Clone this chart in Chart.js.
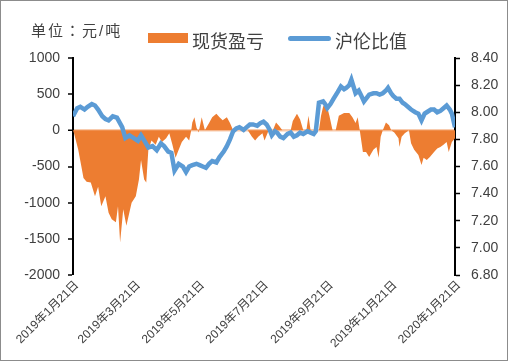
<!DOCTYPE html>
<html>
<head>
<meta charset="utf-8">
<script src="https://cdn.jsdelivr.net/npm/chart.js@4.4.1/dist/chart.umd.min.js"></script>
<style>
    html, body { margin: 0; padding: 0; background: #fff; }
    #wrap { position: relative; width: 508px; height: 361px; font-family: "Liberation Sans", "Noto Sans CJK SC", sans-serif; color: #404040; }
    #frame { position: absolute; left: 0; top: 0; width: 506px; height: 359px; border: 1px solid #8c8c8c; pointer-events: none; }
    .txt { position: absolute; white-space: nowrap; }
    #unit { left: 31px; top: 19px; font-size: 15px; letter-spacing: 2px; font-family: "Liberation Sans", "Noto Sans CJK TC", sans-serif; }
    .leg { top: 27px; font-size: 18px; }
    #legBar { position: absolute; left: 148px; top: 33px; width: 40px; height: 10px; background: #ED7D31; }
    #legLine { position: absolute; left: 288px; top: 36px; width: 43px; height: 5px; background: #5B9BD5; border-radius: 3px; }
</style>
</head>
<body>
<div id="wrap">
    <canvas id="chart" width="508" height="361"></canvas>
    <div id="unit" class="txt">单位：元/吨</div>
    <div id="legBar"></div>
    <div class="txt leg" style="left:192px">现货盈亏</div>
    <div id="legLine"></div>
    <div class="txt leg" style="left:335px">沪伦比值</div>
    <div id="frame"></div>
</div>
<script>
// x values are days since 2019-01-21
const pnlDays = [0, 1, 5, 8, 10, 13, 17, 21, 24, 27, 31, 34, 37, 41, 43, 45, 48, 51, 53, 56, 60, 63, 65, 68, 70, 72, 75, 79, 82, 85, 89, 92, 95, 98, 101, 104, 108, 111, 113, 114, 116, 118, 120, 123, 126, 130, 133, 137, 140, 143, 147, 150, 153, 167, 171, 174, 177, 181, 183, 187, 191, 194, 197, 200, 208, 210, 214, 217, 220, 223, 225, 227, 235, 237, 239, 242, 245, 248, 251, 254, 259, 264, 267, 270, 272, 274, 277, 280, 283, 287, 290, 292, 294, 296, 299, 302, 304, 307, 311, 312, 314, 317, 321, 323, 326, 330, 333, 335, 338, 341, 345, 348, 351, 354, 357, 359, 362, 365];
const pnlValues = [0, -40, -270, -500, -660, -710, -720, -910, -780, -1050, -910, -1140, -1230, -1270, -1050, -1550, -1090, -1320, -1190, -1000, -910, -680, -410, -680, -720, -270, -140, -200, -90, -160, -110, -40, -200, -380, -270, -160, -90, -140, 0, 110, 180, 40, -30, 180, 0, 100, 180, 230, 180, 140, 180, 100, 0, 0, -90, -140, -90, -40, -140, 0, 0, 110, 60, 0, 0, 130, 230, 150, 0, 0, 200, 0, 0, 200, 330, 370, 200, 0, 0, 200, 240, 240, 180, 100, 180, 0, -300, -300, -370, -270, -230, -380, -90, 0, 110, 70, 0, -30, -110, -230, -90, -40, 0, -180, -270, -340, -480, -380, -410, -370, -300, -250, -230, -200, -160, -300, -160, -110];

const ratioDays = [0, 4, 7, 11, 14, 18, 21, 24, 28, 31, 34, 38, 42, 47, 50, 54, 58, 62, 65, 69, 72, 76, 80, 84, 87, 91, 94, 97, 101, 105, 108, 111, 114, 118, 121, 124, 127, 130, 133, 137, 140, 144, 147, 150, 153, 156, 159, 163, 166, 169, 172, 176, 179, 182, 185, 188, 190, 193, 195, 198, 201, 205, 208, 211, 214, 217, 220, 224, 227, 230, 232, 235, 239, 241, 243, 246, 249, 253, 256, 259, 261, 264, 266, 268, 270, 273, 275, 278, 281, 283, 287, 290, 293, 296, 299, 301, 304, 306, 309, 312, 315, 317, 320, 323, 327, 330, 333, 336, 338, 342, 345, 348, 351, 354, 357, 360, 362, 365];
const ratioValues = [7.97, 8.03, 8.04, 8.02, 8.04, 8.06, 8.05, 8.02, 7.97, 7.95, 7.94, 7.97, 7.96, 7.89, 7.81, 7.83, 7.81, 7.79, 7.83, 7.78, 7.74, 7.75, 7.72, 7.77, 7.75, 7.71, 7.70, 7.57, 7.62, 7.60, 7.56, 7.60, 7.61, 7.62, 7.61, 7.60, 7.59, 7.62, 7.64, 7.63, 7.67, 7.71, 7.75, 7.80, 7.86, 7.88, 7.89, 7.87, 7.89, 7.91, 7.91, 7.90, 7.92, 7.93, 7.91, 7.87, 7.83, 7.86, 7.85, 7.82, 7.81, 7.84, 7.85, 7.82, 7.83, 7.85, 7.84, 7.86, 7.85, 7.84, 7.86, 8.07, 8.08, 8.06, 8.03, 8.06, 8.10, 8.15, 8.19, 8.17, 8.18, 8.20, 8.24, 8.19, 8.14, 8.16, 8.13, 8.08, 8.11, 8.13, 8.14, 8.14, 8.13, 8.14, 8.16, 8.18, 8.14, 8.12, 8.10, 8.10, 8.07, 8.06, 8.04, 8.02, 8.00, 7.99, 7.94, 7.99, 8.00, 8.02, 8.02, 8.00, 8.01, 8.03, 8.05, 8.02, 7.99, 7.89];

const tickDays = [0, 59, 120, 181, 243, 304, 365];
const tickLabels = ['2019年1月21日', '2019年3月21日', '2019年5月21日', '2019年7月21日', '2019年9月21日', '2019年11月21日', '2020年1月21日'];

const fontFamily = '"Liberation Sans", "Noto Sans CJK SC", sans-serif';

const ctx = document.getElementById('chart').getContext('2d');
new Chart(ctx, {
    type: 'line',
    data: {
        datasets: [{
            label: '沪伦比值',
            data: ratioDays.map((d, i) => ({ x: d, y: ratioValues[i] })),
            yAxisID: 'y1',
            borderColor: '#5B9BD5',
            borderWidth: 4.5,
            pointRadius: 0,
            fill: false,
            tension: 0,
            order: 1
        }, {
            label: '现货盈亏',
            data: pnlDays.map((d, i) => ({ x: d, y: pnlValues[i] })),
            yAxisID: 'y',
            borderWidth: 0,
            borderColor: 'rgba(0,0,0,0)',
            backgroundColor: '#ED7D31',
            pointRadius: 0,
            fill: 'origin',
            tension: 0,
            order: 2
        }]
    },
    options: {
        responsive: false,
        animation: false,
        layout: { padding: { top: 58, left: 0, right: 0, bottom: 0 } },
        plugins: {
            legend: { display: false },
            tooltip: { enabled: false }
        },
        scales: {
            x: {
                type: 'linear',
                min: 0,
                max: 365,
                afterBuildTicks: function (scale) {
                    scale.ticks = tickDays.map(v => ({ value: v }));
                },
                afterFit: function (scale) {
                    scale.height = 86;
                    scale.paddingLeft = 0;
                    scale.paddingRight = 0;
                },
                grid: { display: false, drawTicks: false },
                border: { display: false },
                ticks: {
                    autoSkip: false,
                    minRotation: 45,
                    maxRotation: 45,
                    padding: 3,
                    labelOffset: 4,
                    color: '#404040',
                    font: { family: fontFamily, size: 12 },
                    callback: function (value) {
                        const i = tickDays.indexOf(value);
                        return i >= 0 ? tickLabels[i] : '';
                    }
                }
            },
            y: {
                position: 'left',
                min: -2000,
                max: 1000,
                afterFit: function (scale) { scale.width = 73; },
                border: { color: '#000', width: 2 },
                grid: {
                    drawOnChartArea: true,
                    color: c => c.tick && c.tick.value === 0 ? '#F8CBAD' : 'rgba(0,0,0,0)',
                    lineWidth: c => c.tick && c.tick.value === 0 ? 2.5 : 0,
                    tickColor: '#000',
                    tickLength: 5,
                    tickWidth: 1.5
                },
                ticks: {
                    stepSize: 500,
                    padding: 8,
                    color: '#404040',
                    font: { family: fontFamily, size: 14 },
                    callback: v => String(v)
                }
            },
            y1: {
                position: 'right',
                min: 6.8,
                max: 8.4,
                afterFit: function (scale) { scale.width = 53; },
                border: { color: '#000', width: 2 },
                grid: {
                    drawOnChartArea: false,
                    tickColor: '#000',
                    tickLength: 5,
                    tickWidth: 1.5
                },
                ticks: {
                    stepSize: 0.2,
                    padding: 11,
                    color: '#404040',
                    font: { family: fontFamily, size: 14 },
                    callback: v => v.toFixed(2)
                }
            }
        }
    }
});
</script>
</body>
</html>
